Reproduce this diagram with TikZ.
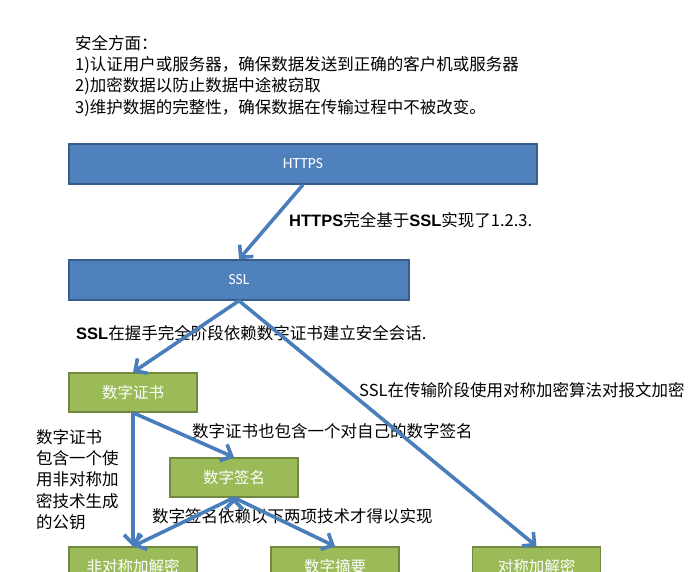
\documentclass[tikz,border=0pt]{standalone}
\usepackage{fontspec}
\setmainfont{Noto Sans CJK SC}
\newfontfamily\lsans{Liberation Sans}
\newfontfamily\boxfont{Carlito}
\usepackage{xcolor}
\usepackage{tikz}
\usetikzlibrary{positioning, arrows.meta}
\definecolor{boxblue}{HTML}{4F81BD}
\definecolor{edgeblue}{HTML}{385D8A}
\definecolor{boxgreen}{HTML}{9BBB59}
\definecolor{edgegreen}{HTML}{71893F}
\definecolor{arrowblue}{HTML}{4A7EBB}

\begin{document}
\begin{tikzpicture}[x=1pt, y=-1pt, ->, >={Straight Barb[length=9pt, width=18pt]},
  flow/.style={draw=arrowblue, line width=3.6pt},
  blue box/.style={draw=edgeblue, fill=boxblue, line width=1.4pt, text=white, minimum height=40pt,
    inner sep=0pt, font=\boxfont\fontsize{15.5}{18}\selectfont},
  green box/.style={draw=edgegreen, fill=boxgreen, line width=1.4pt, text=white, minimum width=128pt,
    minimum height=39pt, inner sep=0pt, font=\fontsize{15.5}{18}\selectfont},
  note/.style={anchor=west, inner sep=0pt, align=left, font=\fontsize{16.5}{21.3}\selectfont}]
  \path[use as bounding box, clip] (0,0) rectangle (696,572);
  \node[note, anchor=north west] (intro) at (75,35)
    {安全方面：\\1)认证用户或服务器，确保数据发送到正确的客户机或服务器\\2)加密数据以防止数据中途被窃取\\3)维护数据的完整性，确保数据在传输过程中不被改变。};
  \node[blue box, minimum width=468pt] (H)  at (303,164)   {HTTPS};
  \node[blue box, minimum width=340pt] (S)  at (239,280)   {SSL};
  \node[green box]                     (C)  at (133,392.5) {数字证书};
  \node[green box]                     (Sg) at (234,477.5) {数字签名};
  \node[green box]                     (As) at (133,566.5) {非对称加解密};
  \node[green box]                     (Dg) at (335,566.5) {数字摘要};
  \node[green box]                     (Sy) at (536.5,566.5) {对称加解密};
  \node[note] (lH)  at (289,220) {{\lsans\bfseries HTTPS}完全基于{\lsans\bfseries SSL}实现了1.2.3.};
  \node[note] (lS)  at (76,333)  {{\lsans\bfseries SSL}在握手完全阶段依赖数字证书建立安全会话.};
  \node[note] (lSy) at (359,390) {SSL在传输阶段使用对称加密算法对报文加密};
  \node[note] (lC)  at (192,431) {数字证书也包含一个对自己的数字签名};
  \node[note] (lK)  at (36,479.5) {数字证书\\包含一个使\\用非对称加\\密技术生成\\的公钥};
  \node[note] (lSg) at (152,516) {数字签名依赖以下两项技术才得以实现};
  \path[flow]
    (H.south)  edge (S.north)
    (S.south)  edge (C.north)
    (S.south)  edge (Sy.north)
    (C.south)  edge (As.north)
    (C.south)  edge (Sg.north)
    (Sg.south) edge (As.north)
    (Sg.south) edge (Dg.north);
\end{tikzpicture}
\end{document}
